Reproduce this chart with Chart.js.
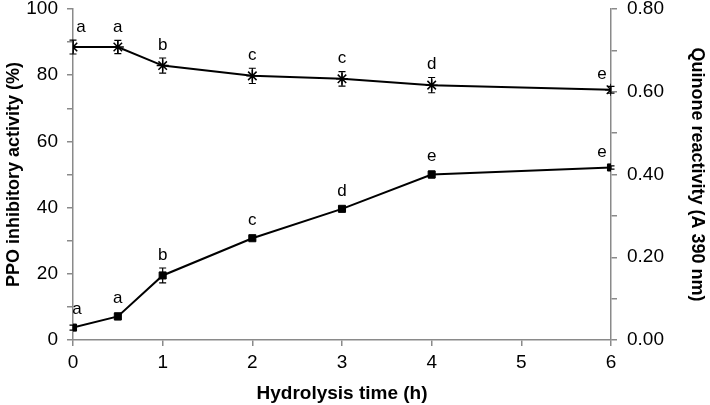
<!DOCTYPE html>
<html><head><meta charset="utf-8">
<script src="https://cdn.jsdelivr.net/npm/chart.js@4/dist/chart.umd.min.js"></script>
<style>html,body{margin:0;padding:0;background:#fff}#wrap{width:710px;height:405px;position:relative}</style>
</head><body><div id="wrap"><canvas id="c"></canvas></div>
<script>
const hours = [0, 0.5, 1, 2, 3, 4, 6];
const ppoInhibition = [88.5, 88.5, 82.9, 79.8, 78.9, 77.0, 75.6];
const ppoError = [2.1, 2.0, 2.3, 2.3, 2.2, 2.3, 1.0];
const ppoLetters = ['a', 'a', 'b', 'c', 'c', 'd', 'e'];
const quinone = [0.030, 0.057, 0.156, 0.246, 0.317, 0.400, 0.417];
const quinoneError = [0.006, 0.008, 0.018, 0.005, 0.004, 0.008, 0.004];
const quinoneLetters = ['a', 'a', 'b', 'c', 'd', 'e', 'e'];

const AXIS = '#8a8a8a';
const FONT = "'Liberation Sans', Arial, sans-serif";

const errorPlugin = {
  id: 'errorLetters',
  afterDatasetsDraw(chart) {
    const ctx = chart.ctx;
    const xs = chart.scales.x;
    chart.data.datasets.forEach((ds, i) => {
      const ys = chart.scales[ds.yAxisID];
      ds.data.forEach((pt, j) => {
        const px = xs.getPixelForValue(pt.x);
        const py = ys.getPixelForValue(pt.y);
        const top = ys.getPixelForValue(pt.y + ds.errors[j]);
        const bot = ys.getPixelForValue(pt.y - ds.errors[j]);
        ctx.save();
        ctx.strokeStyle = '#000';
        ctx.lineWidth = 1.2;
        ctx.beginPath();
        ctx.moveTo(px, top); ctx.lineTo(px, bot);
        ctx.moveTo(px - 3.5, top); ctx.lineTo(px + 3.5, top);
        ctx.moveTo(px - 3.5, bot); ctx.lineTo(px + 3.5, bot);
        ctx.stroke();
        ctx.fillStyle = '#000';
        ctx.font = '17px ' + FONT;
        ctx.textAlign = 'center';
        ctx.textBaseline = 'middle';
        let lx = px, ly = Math.min(py - 18, top - 13);
        if (j === 0) { lx = px + (i === 0 ? 8 : 4); }
        if (j === ds.data.length - 1) { lx = px - 9; ly = py - 15; }
        ctx.fillText(ds.letters[j], lx, ly);
        ctx.restore();
      });
    });
  }
};

function fitY(width) {
  return s => { s.width = width; s.paddingTop = 0; s.paddingBottom = 0; };
}

new Chart(document.getElementById('c'), {
  type: 'line',
  data: {
    datasets: [
      {
        label: 'PPO inhibitory activity (%)',
        data: hours.map((h, i) => ({ x: h, y: ppoInhibition[i] })),
        errors: ppoError, letters: ppoLetters,
        yAxisID: 'y',
        borderColor: '#000', borderWidth: 2,
        pointStyle: 'star', pointRadius: 6, pointBorderWidth: 1.5,
        pointBorderColor: '#000', pointBackgroundColor: '#000'
      },
      {
        label: 'Quinone reactivity (A 390 nm)',
        data: hours.map((h, i) => ({ x: h, y: quinone[i] })),
        errors: quinoneError, letters: quinoneLetters,
        yAxisID: 'y2',
        borderColor: '#000', borderWidth: 2,
        pointStyle: 'rect', pointRadius: 5, pointBorderWidth: 1,
        pointBorderColor: '#000', pointBackgroundColor: '#000'
      }
    ]
  },
  options: {
    responsive: true, maintainAspectRatio: false, animation: false,
    layout: { autoPadding: false, padding: { top: 9, right: 0, left: 0, bottom: 0 } },
    plugins: { legend: { display: false }, tooltip: { enabled: false } },
    scales: {
      x: {
        type: 'linear', min: 0, max: 6,
        afterFit: s => { s.height = 65; s.paddingLeft = 0; s.paddingRight = 0; },
        ticks: { stepSize: 1, color: '#000', font: { family: FONT, size: 19 }, padding: 5 },
        grid: { display: true, drawOnChartArea: false, drawTicks: true, tickLength: 6, color: AXIS, lineWidth: 1.5 },
        border: { display: true, color: AXIS, width: 1.5 },
        title: { display: true, text: 'Hydrolysis time (h)', color: '#000', font: { family: FONT, size: 19, weight: 'bold' }, padding: { top: 0, bottom: 0 } }
      },
      y: {
        position: 'left', min: 0, max: 100,
        afterFit: fitY(73),
        ticks: { stepSize: 10, color: '#000', font: { family: FONT, size: 19 }, padding: 9,
          callback: v => (v % 20 === 0 ? v : '') },
        grid: { display: true, drawOnChartArea: false, drawTicks: true, tickLength: 6, color: AXIS, lineWidth: 1.5 },
        border: { display: true, color: AXIS, width: 1.5 },
        title: { display: true, text: 'PPO inhibitory activity (%)', color: '#000', font: { family: FONT, size: 18, weight: 'bold' }, padding: { top: 3, bottom: 0 } }
      },
      y2: {
        position: 'right', min: 0, max: 0.8,
        afterFit: fitY(99),
        ticks: { stepSize: 0.1, color: '#000', font: { family: FONT, size: 19 }, padding: 10,
          callback: v => (Math.round(v * 10) % 2 === 0 ? v.toFixed(2) : '') },
        grid: { display: true, drawOnChartArea: false, drawTicks: true, tickLength: 6, color: AXIS, lineWidth: 1.5 },
        border: { display: true, color: AXIS, width: 1.5 },
        title: { display: true, text: 'Quinone reactivity (A 390 nm)', color: '#000', font: { family: FONT, size: 18, weight: 'bold' }, padding: { top: 2, bottom: 0 } }
      }
    }
  },
  plugins: [errorPlugin]
});
</script>
</body></html>
